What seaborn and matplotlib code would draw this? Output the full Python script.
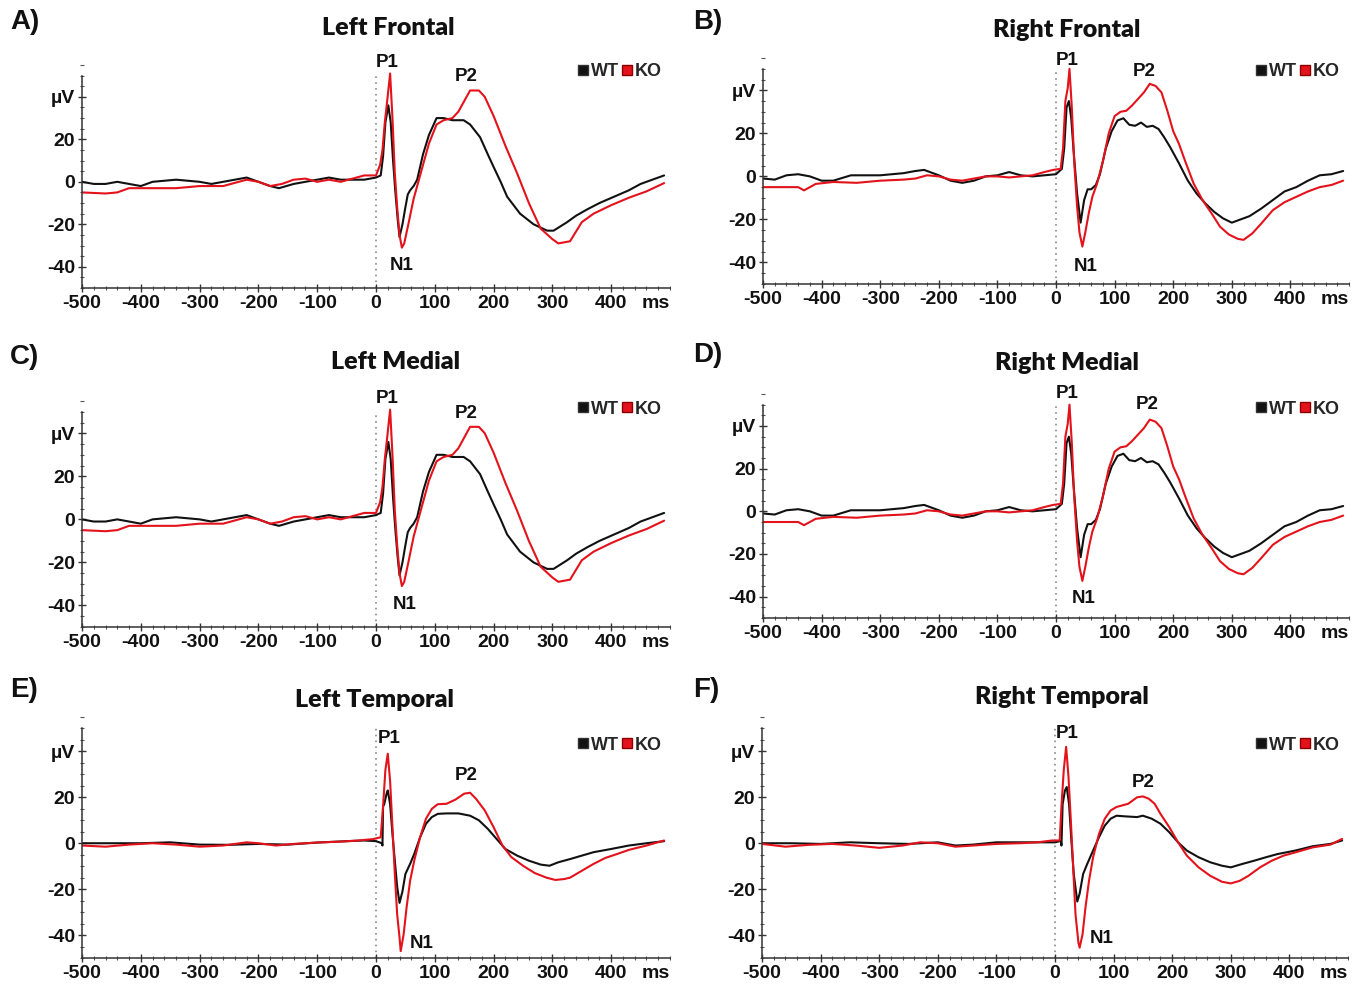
import matplotlib
matplotlib.use('Agg')
import matplotlib.pyplot as plt
from matplotlib.lines import Line2D
from matplotlib.ticker import MultipleLocator
import pandas as pd
import seaborn as sns

# grand-average ERP traces, (ms, uV) pairs
left_frontal_wt = [(-500, 0), (-480, -1), (-460, -1), (-440, 0), (-420, -1), (-400, -2), (-380, 0), (-340, 1),
                   (-300, 0), (-280, -1), (-260, 0), (-240, 1), (-220, 2), (-200, 0), (-180, -2), (-165, -3),
                   (-140, -1), (-120, 0), (-100, 1), (-80, 2), (-60, 1), (-40, 1), (-20, 1), (0, 2), (8, 3),
                   (12, 12), (16, 28), (21, 36), (25, 28), (29, 10), (33, -5), (37, -18), (40, -26), (45, -20),
                   (50, -12), (54, -6), (58, -4), (64, -2), (70, 1), (80, 13), (90, 22), (103, 30), (115, 30),
                   (130, 29), (149, 29), (160, 27), (177, 21), (190, 13), (200, 7), (212, 0), (223, -7),
                   (245, -15), (268, -20), (291, -23), (302, -23), (325, -19), (340, -16), (359, -13),
                   (380, -10), (405, -7), (430, -4), (450, -1), (470, 1), (490, 3)]
left_frontal_ko = [(-500, -5), (-460, -5.5), (-440, -5), (-420, -3), (-380, -3), (-340, -3), (-300, -2),
                   (-260, -2), (-220, 1), (-200, 0), (-180, -2), (-160, -1), (-140, 1), (-120, 1.5), (-100, 0),
                   (-80, 1), (-60, 0), (-40, 1.5), (-20, 3), (0, 3), (7, 8), (11, 15), (15, 28), (19, 38),
                   (24, 51), (28, 30), (32, 4), (36, -12), (40, -25), (44, -31), (48, -29), (55, -20), (64, -8),
                   (75, 3), (90, 18), (103, 27), (115, 29), (130, 30), (140, 33), (150, 38), (160, 43),
                   (175, 43), (185, 40), (200, 31), (220, 17), (240, 4), (260, -10), (280, -22), (300, -27),
                   (310, -29), (330, -28), (350, -19), (370, -15), (400, -11), (430, -7.5), (460, -4.5),
                   (490, -0.6)]

right_frontal_wt = [(-500, -1), (-480, -1.5), (-460, 0.5), (-440, 1), (-420, 0), (-400, -2), (-380, -2),
                    (-350, 0.5), (-300, 0.5), (-260, 1.5), (-240, 2.5), (-225, 3), (-200, 0.5), (-180, -2),
                    (-160, -3), (-140, -2), (-120, 0), (-100, 0.5), (-80, 2), (-60, 0.5), (-40, 0), (-20, 0.5),
                    (0, 1), (10, 3.5), (14, 13), (18, 32), (22, 35), (26, 27), (30, 12), (36, -8), (42, -21.5),
                    (48, -11), (54, -6), (60, -6), (68, -4), (75, 1), (85, 13), (95, 21), (105, 26), (115, 27),
                    (125, 24), (135, 23.5), (145, 25), (155, 23), (165, 23.5), (175, 22), (185, 18), (195, 13.5),
                    (210, 6), (225, -2), (240, -8), (255, -12.6), (270, -16.5), (285, -19.5), (300, -21.5),
                    (315, -20), (330, -18.5), (350, -15), (370, -11), (390, -7), (410, -5), (430, -2),
                    (450, 0.5), (470, 1), (490, 2.5)]
right_frontal_ko = [(-500, -5), (-440, -5), (-430, -6.5), (-410, -3.5), (-380, -2.6), (-340, -3), (-300, -2),
                    (-260, -1.5), (-240, -1), (-220, 0.5), (-200, 0), (-180, -1.5), (-160, -2), (-140, -1),
                    (-120, 0), (-100, 0), (-80, -0.5), (-60, 0), (-40, 0.5), (-20, 2), (-5, 3), (8, 3.5),
                    (12, 13), (16, 35), (20, 41), (23, 50), (27, 32), (31, 7), (36, -14), (40, -26), (45, -32.6),
                    (50, -26), (56, -17), (62, -9.5), (70, -3.4), (80, 7), (90, 20), (100, 28), (110, 30),
                    (120, 30.5), (130, 33), (140, 36), (150, 39), (160, 43), (170, 42), (180, 39), (190, 30.5),
                    (200, 21), (210, 15), (220, 7.4), (235, -3.4), (250, -11), (265, -17), (280, -23.4),
                    (295, -27), (310, -29), (320, -29.5), (335, -26.5), (350, -22), (370, -15.7), (390, -12),
                    (410, -9.5), (430, -7), (450, -5), (470, -4), (490, -2)]

# medial panels repeat the frontal traces in the figure
left_medial_wt = left_frontal_wt
left_medial_ko = left_frontal_ko
right_medial_wt = right_frontal_wt
right_medial_ko = right_frontal_ko

left_temporal_wt = [(-500, 0), (-400, 0), (-350, 0.4), (-300, -0.6), (-250, -0.7), (-200, -0.3), (-150, -0.6),
                    (-100, 0.3), (-50, 0.9), (-20, 1.2), (0, 0.9), (10, 0), (11, -1), (12, 16), (14, 17),
                    (18, 21.6), (20, 23), (24, 17), (28, 4), (32, -7.6), (36, -19), (40, -26), (45, -21),
                    (50, -13.4), (58, -9), (65, -4.7), (75, 2.6), (85, 8.5), (95, 11.4), (105, 12.8), (120, 13),
                    (140, 13), (160, 12), (175, 10), (190, 6.3), (205, 1.9), (220, -2.5), (240, -5.4),
                    (260, -7.6), (280, -9.3), (295, -9.8), (310, -8.3), (330, -6.9), (350, -5.4), (370, -3.9),
                    (400, -2.5), (430, -1), (460, 0), (490, 0.9)]
left_temporal_ko = [(-500, -1), (-460, -1.5), (-420, -0.6), (-380, 0), (-340, -0.6), (-300, -1.5), (-260, -1),
                    (-220, 0.4), (-200, 0), (-170, -1), (-140, -0.3), (-100, 0.3), (-60, 0.7), (-30, 1.2),
                    (-5, 1.8), (8, 2.6), (12, 16), (16, 32), (20, 39), (24, 27), (28, 7), (32, -13.4), (36, -31),
                    (40, -41), (42, -47), (47, -39.7), (52, -28), (58, -16.4), (65, -7.6), (75, 2.6), (85, 10.7),
                    (95, 15), (105, 17), (120, 17.2), (135, 19), (150, 21.6), (160, 22), (170, 19.4), (185, 14.3),
                    (200, 7), (215, -1), (230, -6), (250, -9.8), (270, -13), (290, -15), (305, -16),
                    (320, -15.6), (330, -15), (350, -12), (370, -9), (390, -6.4), (410, -4.7), (430, -2.9),
                    (460, -1), (490, 1.2)]

right_temporal_wt = [(-500, 0), (-450, 0), (-400, -0.3), (-350, 0.4), (-300, 0), (-250, -0.3), (-200, 0.4),
                     (-170, -1), (-140, -0.6), (-100, 0.4), (-50, 0.4), (-20, 0.4), (0, 0.4), (10, 1), (11, -1),
                     (13, 17), (17, 23), (20, 24.5), (24, 17), (28, 1), (32, -13.4), (38, -25.4), (42, -22),
                     (48, -13.4), (55, -9), (65, -3.2), (75, 2.6), (85, 7.7), (95, 10.7), (105, 12), (120, 11.7),
                     (140, 11.4), (150, 12), (165, 10.7), (180, 8.5), (195, 4.8), (210, 0.4), (225, -3.2),
                     (245, -6.1), (265, -8.3), (285, -9.8), (300, -10.5), (320, -9), (340, -7.6), (360, -6.1),
                     (380, -4.7), (410, -3.2), (440, -1.3), (470, -0.3), (490, 1.2)]
right_temporal_ko = [(-500, -0.3), (-460, -1.5), (-420, -0.7), (-380, -0.3), (-340, -1), (-300, -2), (-260, -1),
                     (-230, 0.4), (-200, 0), (-170, -1.5), (-140, -1), (-100, -0.3), (-60, 0), (-30, 0.4),
                     (-5, 1.2), (8, 1.2), (11, 16), (15, 32), (19, 42), (23, 29), (27, 10), (31, -10.5),
                     (35, -31), (40, -43.4), (42, -45.5), (47, -39.7), (52, -28), (58, -16.4), (65, -6.1),
                     (75, 4), (85, 10.7), (95, 14.3), (105, 15.8), (115, 16.5), (125, 17.2), (140, 20),
                     (150, 20.4), (160, 19.4), (170, 17.2), (180, 12.8), (195, 7), (210, 0.4), (225, -5.4),
                     (245, -10.5), (265, -14.2), (285, -16.8), (300, -17.5), (315, -16.4), (330, -14.2),
                     (350, -10.5), (370, -7.6), (390, -5.4), (410, -4), (440, -1.8), (470, -0.6), (490, 1.9)]

groups = ['WT', 'KO']
x_ticks = [-500, -400, -300, -200, -100, 0, 100, 200, 300, 400]
y_ticks = [-40, -20, 0, 20, 40]
y_tick_labels = ['-40', '-20', '0', '20', 'µV']
colors = {'WT': '#111111', 'KO': '#e3121b'}

NARROW = ['Liberation Sans Narrow', 'Liberation Sans', 'DejaVu Sans']
TITLE_FONT = ['Lato', 'Open Sans', 'DejaVu Sans']
W, H = 1360, 990


def to_frame(wt, ko):
    rows = [(t, v, 'WT') for t, v in wt] + [(t, v, 'KO') for t, v in ko]
    return pd.DataFrame(rows, columns=['ms', 'uV', 'group'])


# letter, title, traces, axes box (px: left, top, right, bottom), letter / title / legend anchors (px),
# peak labels (data coords)
panels = [
    ('A)', 'Left Frontal', left_frontal_wt, left_frontal_ko, (82, 65, 670, 288), (10, 22), (388, 28), (662, 72),
     [('P1', 19, 56), ('N1', 44, -39.5), ('P2', 153, 49.5)]),
    ('B)', 'Right Frontal', right_frontal_wt, right_frontal_ko, (763, 58, 1349, 284), (693, 22), (1067, 30),
     (1340, 72), [('P1', 19, 54), ('N1', 51, -42), ('P2', 150, 48.5)]),
    ('C)', 'Left Medial', left_medial_wt, left_medial_ko, (82, 401, 670, 627), (10, 357), (396, 362), (662, 409),
     [('P1', 19, 56), ('N1', 48, -39.5), ('P2', 153, 49)]),
    ('D)', 'Right Medial', right_medial_wt, right_medial_ko, (763, 394, 1349, 618), (693, 355), (1067, 363),
     (1340, 409), [('P1', 19, 55), ('N1', 48, -41), ('P2', 155, 50)]),
    ('E)', 'Left Temporal', left_temporal_wt, left_temporal_ko, (82, 717, 670, 958), (10, 690), (374, 700),
     (662, 745), [('P1', 22, 45.5), ('N1', 77, -43.5), ('P2', 153, 29.5)]),
    ('F)', 'Right Temporal', right_temporal_wt, right_temporal_ko, (762, 717, 1348, 958), (693, 690),
     (1062, 697), (1340, 745), [('P1', 20, 48), ('N1', 80, -41.7), ('P2', 150, 26.5)]),
]

sns.set_theme(style='ticks')
plt.rcParams['font.family'] = ['Liberation Sans', 'DejaVu Sans']

fig = plt.figure(figsize=(W / 100, H / 100), dpi=100)

for letter, title, wt, ko, box, letter_pos, title_pos, legend_pos, peaks in panels:
    l, t, r, b = box
    ax = fig.add_axes([l / W, 1 - b / H, (r - l) / W, (b - t) / H])
    df = to_frame(wt, ko)
    sns.lineplot(data=df, x='ms', y='uV', hue='group', hue_order=groups, palette=colors,
                 estimator=None, sort=False, linewidth=1.5, legend=False, ax=ax)
    ax.set_xlim(-500, 500)
    ax.set_ylim(-50, 55)
    ax.plot([0, 0], [-50, 50], color='#888888', linewidth=1.2, linestyle=(0, (1, 2.5)), zorder=0)

    ax.set_xlabel('')
    ax.set_ylabel('')
    ax.set_facecolor('white')
    for side in ['top', 'right']:
        ax.spines[side].set_visible(False)
    ax.spines['left'].set_bounds(-50, 50)
    for side in ['left', 'bottom']:
        ax.spines[side].set_color('#333333')
        ax.spines[side].set_linewidth(1.1)

    ax.set_xticks(x_ticks)
    ax.set_xticklabels([str(v) for v in x_ticks], fontfamily=NARROW, fontweight='bold', fontsize=14)
    ax.set_yticks(y_ticks)
    ax.set_yticklabels(y_tick_labels, fontfamily=NARROW, fontweight='bold', fontsize=14)
    ax.xaxis.set_minor_locator(MultipleLocator(20))
    ax.yaxis.set_minor_locator(MultipleLocator(5))
    ax.tick_params(axis='both', which='major', direction='inout', length=6, width=1, color='#333333',
                   pad=2, labelcolor='#111111')
    ax.tick_params(axis='both', which='minor', direction='inout', length=3, width=0.8, color='#555555')
    ax.annotate('ms', xy=(475, 0), xycoords=('data', 'axes fraction'), xytext=(0, -5),
                textcoords='offset points', ha='center', va='top', fontfamily=NARROW,
                fontweight='bold', fontsize=14, color='#111111')

    for name, px, py in peaks:
        ax.text(px, py, name, ha='center', va='center', fontfamily=NARROW, fontweight='bold',
                fontsize=13.5, color='#111111', clip_on=False)

    handles = [Line2D([], [], linestyle='', marker='s', markersize=7.5, markerfacecolor=colors[g],
                      markeredgecolor='#333333' if g == 'WT' else '#8a0000') for g in groups]
    ax.legend(handles, groups, ncol=2, loc='center right',
              bbox_to_anchor=(legend_pos[0] / W, 1 - legend_pos[1] / H), bbox_transform=fig.transFigure,
              frameon=False, handlelength=0.5, handletextpad=0.2, columnspacing=0.2, borderpad=0,
              borderaxespad=0, prop={'family': NARROW, 'size': 13, 'weight': 'bold'})

    fig.text(letter_pos[0] / W, 1 - letter_pos[1] / H, letter, ha='left', va='center',
             fontfamily=['Liberation Sans', 'DejaVu Sans'], fontweight='bold', fontsize=20, color='#111111')
    fig.text(title_pos[0] / W, 1 - title_pos[1] / H, title, ha='center', va='center',
             fontfamily=TITLE_FONT, fontweight='heavy', fontsize=18, color='#111111')

fig.savefig('out.png', dpi=100, facecolor='white')
